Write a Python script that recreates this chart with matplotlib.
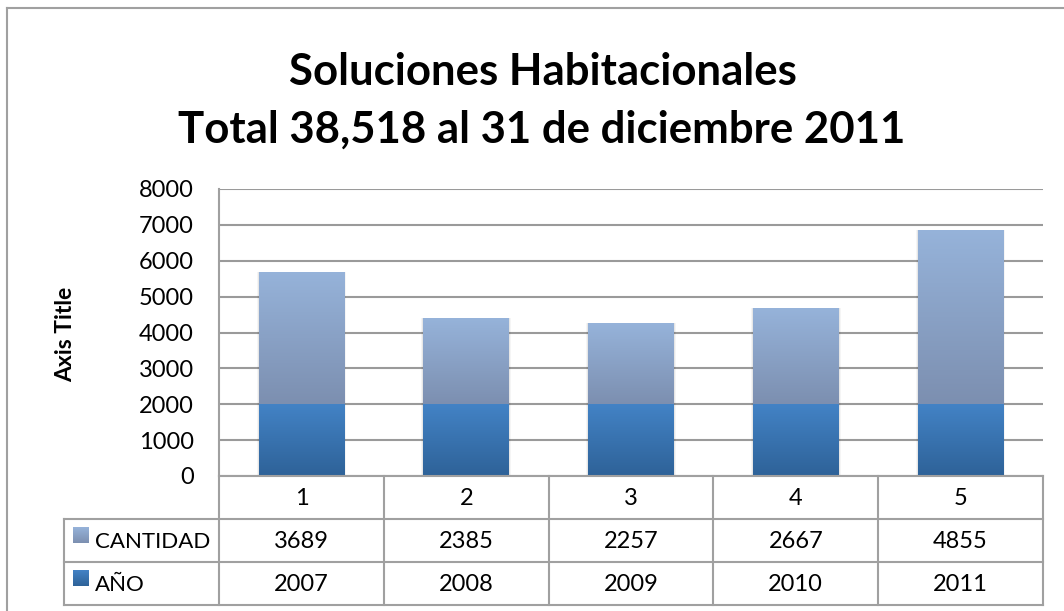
import matplotlib
matplotlib.use("Agg")
import matplotlib.pyplot as plt
import numpy as np
from matplotlib.colors import LinearSegmentedColormap
from matplotlib.patches import Rectangle

categories = ["1", "2", "3", "4", "5"]
anio = [2007, 2008, 2009, 2010, 2011]
cantidad = [3689, 2385, 2257, 2667, 4855]
series_names = ["CANTIDAD", "AÑO"]
title_lines = ["Soluciones Habitacionales", "Total 38,518 al 31 de diciembre 2011"]
ylabel = "Axis Title"
yticks = [0, 1000, 2000, 3000, 4000, 5000, 6000, 7000, 8000]

FONT = "Lato"
W, H = 1064, 611
fig = plt.figure(figsize=(W / 100, H / 100), dpi=100)

def fx(px):
    return px / W

def fy(py):
    return 1 - py / H

# outer chart border
fig.add_artist(plt.Line2D([fx(7), fx(7)], [fy(8), 0], color="#a0a0a0", lw=1.5, transform=fig.transFigure))
fig.add_artist(plt.Line2D([fx(7), 1], [fy(8), fy(8)], color="#a0a0a0", lw=1.5, transform=fig.transFigure))

# plot axes
L, R, T, B = 219, 1043, 189, 476
ax = fig.add_axes([fx(L), fy(B), fx(R - L), fy(T) - fy(B)])
x = np.arange(1, len(categories) + 1)
ax.set_xlim(0.5, len(categories) + 0.5)
ax.set_ylim(0, 8000)
ax.set_yticks(yticks)
ax.set_yticklabels([str(v) for v in yticks], fontfamily=FONT, fontsize=17)
ax.tick_params(axis="y", length=0, pad=18)
ax.set_xticks([])
for s in ["top", "right", "bottom"]:
    ax.spines[s].set_visible(False)
ax.spines["left"].set_color("#a0a0a0")
ax.spines["left"].set_linewidth(1.5)
ax.yaxis.grid(True, color="#9a9a9a", lw=1.5)
ax.set_axisbelow(True)
ax.set_ylabel(ylabel, fontfamily=FONT, fontsize=16.5, fontweight="bold")
ax.yaxis.set_label_coords((76 - L) / (R - L), (B - 334) / (B - T))

cm_anio = LinearSegmentedColormap.from_list("a", ["#2e6298", "#4383c6"])
cm_cant = LinearSegmentedColormap.from_list("c", ["#7c8fb0", "#96b3da"])
grad = np.linspace(0, 1, 256).reshape(-1, 1)

width = 0.52
bars_a = ax.bar(x, anio, width=width, color="#3a74b4", zorder=2)
bars_c = ax.bar(x, cantidad, width=width, bottom=anio, color="#8aa4c8", zorder=2)
for bars, cm in [(bars_a, cm_anio), (bars_c, cm_cant)]:
    for p in bars:
        x0, y0 = p.get_x(), p.get_y()
        w, h = p.get_width(), p.get_height()
        for k, a in [(0.012, 0.04), (0.006, 0.06)]:
            sh = Rectangle((x0 - k, y0), w + 2 * k, h, color="#000000", alpha=a, lw=0, zorder=1.5)
            ax.add_patch(sh)
        im = ax.imshow(grad, extent=[x0, x0 + w, y0, y0 + h], origin="lower",
                       cmap=cm, aspect="auto", zorder=2.5)
        im.set_clip_path(p)
ax.set_xlim(0.5, len(categories) + 0.5)
ax.set_ylim(0, 8000)

# data table
TB = 605
tax = fig.add_axes([fx(L), fy(TB), fx(R - L), fy(B) - fy(TB)])
tax.set_xlim(0.5, len(categories) + 0.5)
tax.set_ylim(0, 3)
tax.axis("off")
left_x = 0.5 - (L - 64) / 165.0
gc = "#a0a0a0"
lw = 1.5
kw = dict(color=gc, lw=lw, clip_on=False)
tax.plot([0.5, len(categories) + 0.5], [3, 3], **kw)
for yy in [0, 1, 2]:
    tax.plot([left_x, len(categories) + 0.5], [yy, yy], **kw)
tax.plot([left_x, left_x], [0, 2], **kw)
for i in range(len(categories) + 1):
    tax.plot([0.5 + i, 0.5 + i], [0, 3], **kw)

tfont = dict(fontfamily=FONT, fontsize=17, ha="center", va="center")
for i, c in enumerate(categories):
    tax.text(x[i], 2.47, c, **tfont)
    tax.text(x[i], 1.47, str(cantidad[i]), **tfont)
    tax.text(x[i], 0.47, str(anio[i]), **tfont)

sw_w = 16 / 165.0
for row, (name, cm) in enumerate([(series_names[0], cm_cant), (series_names[1], cm_anio)]):
    yc = 1.5 - row
    sx0 = left_x + 9 / 165.0
    tax.imshow(grad, extent=[sx0, sx0 + sw_w, yc - 0.05, yc + 0.3], origin="lower",
               cmap=cm, aspect="auto", clip_on=False)
    tax.text(sx0 + sw_w + 6 / 165.0, yc - 0.03, name, fontfamily=FONT, fontsize=16,
             ha="left", va="center")
tax.set_xlim(0.5, len(categories) + 0.5)
tax.set_ylim(0, 3)

fig.text(fx(543), fy(72), title_lines[0], fontfamily=FONT, fontsize=31.5, fontweight="bold",
         ha="center", va="center")
fig.text(fx(542), fy(130), title_lines[1], fontfamily=FONT, fontsize=31.5, fontweight="bold",
         ha="center", va="center")

fig.savefig("out.png", dpi=100)
